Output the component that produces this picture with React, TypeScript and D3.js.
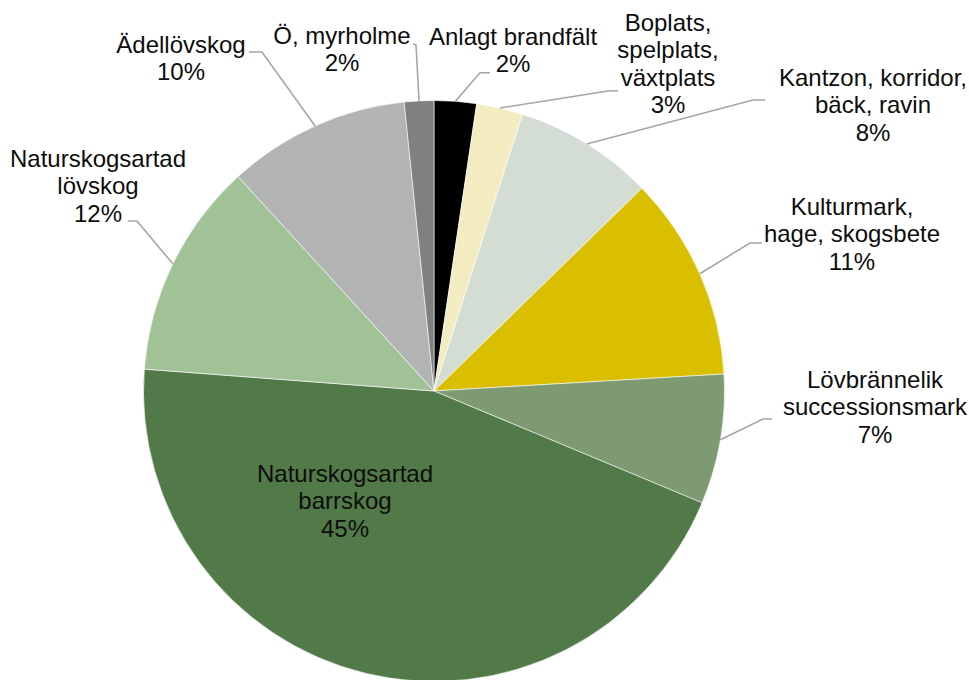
import React from "react";
import * as d3 from "d3";

// Data
const categories: string[] = [
  "Anlagt brandfält",
  "Boplats, spelplats, växtplats",
  "Kantzon, korridor, bäck, ravin",
  "Kulturmark, hage, skogsbete",
  "Lövbrännelik successionsmark",
  "Naturskogsartad barrskog",
  "Naturskogsartad lövskog",
  "Ädellövskog",
  "Ö, myrholme",
];
const values: number[] = [2.35, 2.58, 7.77, 11.37, 7.22, 44.91, 12.02, 10.14, 1.64];
const labelLines: string[][] = [
  ["Anlagt brandfält"],
  ["Boplats,", "spelplats,", "växtplats"],
  ["Kantzon, korridor,", "bäck, ravin"],
  ["Kulturmark,", "hage, skogsbete"],
  ["Lövbrännelik", "successionsmark"],
  ["Naturskogsartad", "barrskog"],
  ["Naturskogsartad", "lövskog"],
  ["Ädellövskog"],
  ["Ö, myrholme"],
];
const colors: string[] = [
  "#000000",
  "#F3ECC0",
  "#D4DDD3",
  "#DABF00",
  "#7E9A73",
  "#527A48",
  "#A1C297",
  "#B2B3B3",
  "#808080",
];

// Layout (label placement: text center x, first baseline y, leader elbow and end)
type LabelLayout = { cx: number; y0: number; elbow?: [number, number]; end?: [number, number] };
const labelLayout: LabelLayout[] = [
  { cx: 513, y0: 45, elbow: [480, 72.7], end: [490, 72.7] },
  { cx: 668, y0: 31, elbow: [608, 91], end: [618, 90.7] },
  { cx: 873, y0: 86, elbow: [753, 100], end: [765, 100] },
  { cx: 852, y0: 215, elbow: [750, 243], end: [762, 243] },
  { cx: 875, y0: 388, elbow: [763, 419], end: [772, 419] },
  { cx: 345, y0: 482 },
  { cx: 98, y0: 167, elbow: [137, 221], end: [128, 221] },
  { cx: 181, y0: 53, elbow: [262, 52], end: [249, 52] },
  { cx: 342, y0: 43.5, elbow: [416, 45], end: [413, 44] },
];

const W = 969;
const H = 680;
const CX = 434;
const CY = 391;
const R = 290.5;
const LINE_H = 27.3;
const FONT = "'Liberation Sans', Arial, Helvetica, sans-serif";

export default function App() {
  const total = d3.sum(values);
  const pie = d3
    .pie<number>()
    .sort(null)
    .value((d) => d)
    .startAngle(0)
    .endAngle(2 * Math.PI);
  const arcs = pie(values);
  const arc = d3.arc<d3.PieArcDatum<number>>().innerRadius(0).outerRadius(R);

  return (
    <svg
      width={W}
      height={H}
      style={{ position: "absolute", left: 0, top: 0, background: "#fff" }}
    >
      <rect x={0} y={0} width={W} height={H} fill="#fff" />
      <g transform={`translate(${CX},${CY})`}>
        {arcs.map((a, i) => (
          <path key={i} d={arc(a) || ""} fill={colors[i]} stroke="#fff" strokeWidth={0.6} />
        ))}
      </g>
      {arcs.map((a, i) => {
        const L = labelLayout[i];
        if (!L.elbow || !L.end) return null;
        const mid = (a.startAngle + a.endAngle) / 2;
        const ex = CX + R * Math.sin(mid);
        const ey = CY - R * Math.cos(mid);
        const pts = `${ex},${ey} ${L.elbow[0]},${L.elbow[1]} ${L.end[0]},${L.end[1]}`;
        return (
          <polyline key={"l" + i} points={pts} fill="none" stroke="#A6A6A6" strokeWidth={1.6} />
        );
      })}
      {categories.map((c, i) => {
        const L = labelLayout[i];
        const pct = Math.round((values[i] / total) * 100) + "%";
        const lines = [...labelLines[i], pct];
        return (
          <text
            key={"t" + i}
            textAnchor="middle"
            fontFamily={FONT}
            fontSize={24}
            fill="#0d0d0d"
          >
            {lines.map((ln, j) => (
              <tspan key={j} x={L.cx} y={L.y0 + j * LINE_H}>
                {ln}
              </tspan>
            ))}
          </text>
        );
      })}
    </svg>
  );
}
